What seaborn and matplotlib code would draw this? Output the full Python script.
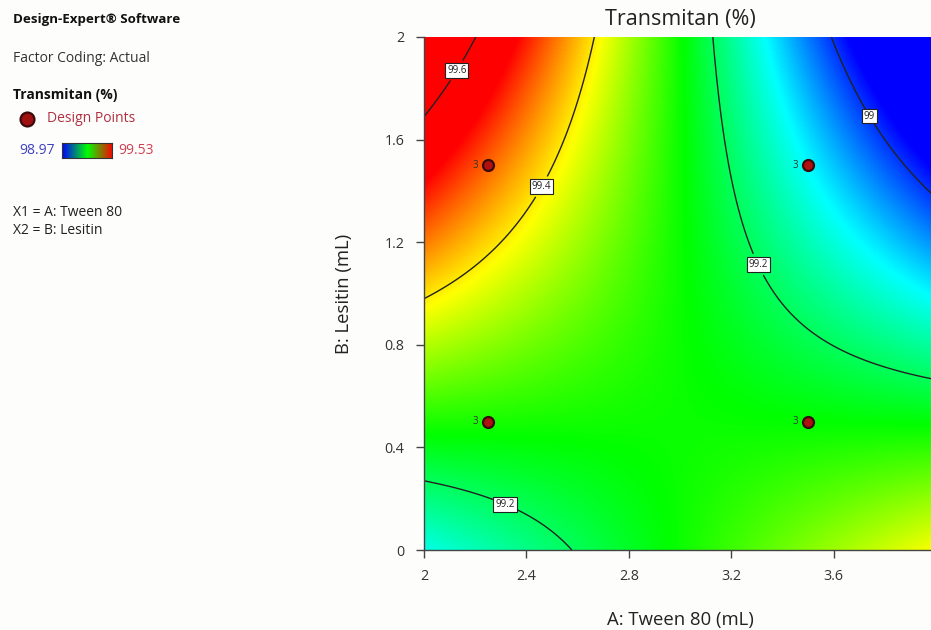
import numpy as np
import pandas as pd
import matplotlib
matplotlib.use("Agg")
import matplotlib.pyplot as plt
from matplotlib.colors import LinearSegmentedColormap
import seaborn as sns

# ---- data ----
# 2FI model (actual factors): T = b0 + bA*A + bB*B + bAB*A*B
model_terms = ["Intercept", "A", "B", "AB"]
model_coefs = [98.8608, 0.1316, 0.8453, -0.2818]
design_A = [2.25, 3.5, 2.25, 3.5]
design_B = [1.5, 1.5, 0.5, 0.5]
design_reps = [3, 3, 3, 3]
contour_levels = [99.0, 99.2, 99.4, 99.6]
x_ticks = [2, 2.4, 2.8, 3.2, 3.6]
y_ticks = [0, 0.4, 0.8, 1.2, 1.6, 2]
legend_low, legend_high = 98.97, 99.53

sns.set_theme(style="white")
plt.rcParams['font.family'] = ['Open Sans', 'DejaVu Sans']

fig = plt.figure(figsize=(9.31, 6.30), dpi=100)
fig.patch.set_facecolor("#fdfdfc")
ax = fig.add_axes([424/931, 80/630, 512/931, 513/630])

A = np.linspace(2, 4, 400)
B = np.linspace(0, 2, 400)
AA, BB = np.meshgrid(A, B)
b0, bA, bB, bAB = model_coefs
T = b0 + bA*AA + bB*BB + bAB*AA*BB

cmap = LinearSegmentedColormap.from_list(
    "de", ["#0000ff", "#00ffff", "#00ff00", "#ffff00", "#ff0000"])
ax.imshow(T, origin="lower", extent=(2, 4, 0, 2), aspect="auto", cmap=cmap,
          vmin=legend_low, vmax=legend_high, interpolation="bilinear", zorder=1)
cs = ax.contour(AA, BB, T, levels=contour_levels, colors="#222222", linewidths=1.0, zorder=2)
label_pos = [(3.754, 1.70), (3.32, 1.12), (2.33, 0.21), (2.453, 1.42), (2.113, 1.879)]
labels = ax.clabel(cs, fmt=lambda v: f"{v:g}", fontsize=7, inline=True,
                   manual=label_pos, inline_spacing=2)
for t in labels:
    t.set_bbox(dict(facecolor="white", edgecolor="#222222", linewidth=0.8, pad=1.3))
    t.set_rotation(0)
    t.set_color("#222222")

df = pd.DataFrame({"A": design_A, "B": design_B, "reps": design_reps})
sns.scatterplot(data=df, x="A", y="B", ax=ax, s=62, color="#b01010",
                edgecolor="#3a0a0a", linewidth=1.6, zorder=5, legend=False)
for a, b, r in zip(design_A, design_B, design_reps):
    ax.annotate(str(r), (a, b), xytext=(-7, 0), textcoords="offset points",
                ha="right", va="center", fontsize=7, color="#333333", zorder=6)

ax.set_xlim(2, 4)
ax.set_ylim(0, 2)
ax.set_xticks(x_ticks)
ax.set_xticklabels([f"{v:g}" for v in x_ticks])
ax.set_yticks(y_ticks)
ax.set_yticklabels([f"{v:g}" for v in y_ticks])
ax.tick_params(axis="both", which="both", direction="out", length=6, width=1,
               color="#444444", labelsize=10.3, labelcolor="#333333", pad=8,
               bottom=True, left=True)
for s in ["top", "right"]:
    ax.spines[s].set_visible(False)
for s in ["left", "bottom"]:
    ax.spines[s].set_color("#444444")
    ax.spines[s].set_linewidth(1.0)
ax.set_xlabel("A: Tween 80 (mL)", fontsize=13.3, color="#222222", labelpad=19)
ax.set_ylabel("B: Lesitin (mL)", fontsize=13.3, color="#222222", labelpad=23)
fig.text(680/931, 1 - 20/630, "Transmitan (%)", ha="center", va="center",
         fontsize=15.5, color="#222222")

# ---- left legend panel ----
def ft(x, y, s, **kw):
    fig.text(x/931, 1 - y/630, s, va="center", ha="left", **kw)

ft(13, 20, "Design-Expert® Software", fontsize=9.6, fontweight="bold", color="#111111")
ft(13, 58, "Factor Coding: Actual", fontsize=10, color="#333333")
ft(13, 95, "Transmitan (%)", fontsize=10, fontweight="bold", color="#111111")
fig.add_artist(plt.Line2D([27/931], [1 - 119/630], marker="o", markersize=10,
                          markerfacecolor="#a01010", markeredgecolor="#3a0a0a",
                          markeredgewidth=1.6, transform=fig.transFigure))
ft(47, 119, "Design Points", fontsize=10, color="#b03040")
ft(19, 151, f"{legend_low:.2f}", fontsize=10, color="#4040c0")
ft(118, 151, f"{legend_high:.2f}", fontsize=10, color="#d04050")
cax = fig.add_axes([62/931, 1 - 158/630, 50/931, 15/630])
grad = np.linspace(0, 1, 200).reshape(1, -1)
cax.imshow(grad, aspect="auto", cmap=LinearSegmentedColormap.from_list(
    "lg", ["#0000ff", "#00ff00", "#ff0000"]))
cax.set_xticks([]); cax.set_yticks([])
for s in cax.spines.values():
    s.set_color("#333333"); s.set_linewidth(0.8)
ft(13, 212, "X1 = A: Tween 80", fontsize=10, color="#222222")
ft(13, 230, "X2 = B: Lesitin", fontsize=10, color="#222222")

fig.savefig("out.png", dpi=100, facecolor=fig.get_facecolor())
